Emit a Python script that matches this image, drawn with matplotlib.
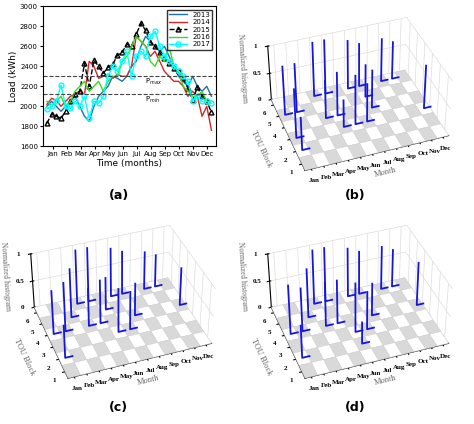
import numpy as np
import matplotlib.pyplot as plt
from mpl_toolkits.mplot3d.art3d import Poly3DCollection

months = ['Jan', 'Feb', 'Mar', 'Apr', 'May', 'Jun', 'Jul', 'Aug', 'Sep', 'Oct', 'Nov', 'Dec']
load_2013 = [2000, 2050, 2000, 1950, 2000, 2050, 2100, 2000, 1900, 1850, 2000, 2100, 2150, 2200, 2300, 2280, 2250, 2300,
             2400, 2450, 2600, 2700, 2650, 2600, 2550, 2600, 2500, 2400, 2300, 2250, 2200, 2300, 2200, 2150, 2200, 2100]
load_2014 = [2020, 2080, 2060, 2000, 2050, 2100, 2120, 2150, 2120, 2450, 2400, 2280, 2300, 2320, 2280, 2320, 2300, 2300,
             2400, 2700, 2650, 2600, 2500, 2550, 2450, 2350, 2300, 2250, 2250, 2200, 2100, 2150, 2100, 1900, 2000, 1760]
load_2015 = [1830, 1920, 1900, 1880, 1950, 2050, 2120, 2150, 2430, 2200, 2460, 2400, 2330, 2390, 2420, 2510, 2540, 2620,
             2600, 2720, 2830, 2760, 2640, 2600, 2540, 2480, 2430, 2380, 2350, 2280, 2180, 2060, 2190, 2100, 2050, 1940]
load_2016 = [2050, 2000, 2050, 2100, 2000, 2050, 2150, 2200, 2250, 2150, 2200, 2250, 2150, 2250, 2300, 2300, 2450, 2500,
             2600, 2700, 2650, 2600, 2450, 2400, 2500, 2450, 2600, 2400, 2350, 2200, 2150, 2100, 2100, 2150, 2050, 2050]
load_2017 = [1970, 2000, 2050, 2210, 2000, 1980, 2050, 2000, 2100, 1880, 2050, 2030, 2100, 2300, 2400, 2350, 2450, 2550,
             2300, 2500, 2550, 2500, 2700, 2750, 2600, 2500, 2450, 2400, 2350, 2300, 2250, 2050, 2100, 2050, 2050, 2030]
p_max, p_min = 2300, 2120

# (month, TOU block, normalized height) for the three histogram panels
spikes_b = [(1, 2, 0.6), (1, 3, 0.9), (1, 5, 0.9), (2, 5, 0.9), (4, 6, 1.0), (5, 6, 1.0), (4, 4, 0.7), (5, 4, 0.8),
            (5, 3, 0.5), (6, 3, 0.9), (7, 3, 0.7), (7, 6, 0.9), (8, 6, 0.8), (8, 5, 0.6), (8, 4, 0.7), (10, 6, 0.8),
            (11, 6, 0.7), (12, 3, 0.8)]
spikes_c = [(1, 2, 0.6), (1, 4, 0.8), (2, 4, 0.9), (3, 5, 0.9), (4, 6, 1.0), (5, 6, 1.0), (4, 4, 0.7), (5, 4, 0.8),
            (6, 3, 0.8), (7, 3, 0.7), (6, 5, 0.6), (7, 6, 0.9), (8, 6, 0.8), (8, 4, 0.6), (10, 6, 0.7), (11, 6, 0.6),
            (12, 4, 0.7)]
spikes_d = [(1, 2, 0.6), (1, 4, 0.9), (2, 4, 0.8), (3, 5, 0.9), (4, 6, 1.0), (5, 6, 1.0), (4, 4, 0.8), (5, 4, 0.8),
            (6, 3, 0.9), (6, 2, 0.4), (7, 3, 0.7), (7, 6, 0.9), (8, 6, 0.8), (8, 4, 0.6), (10, 6, 0.8), (11, 6, 0.7),
            (12, 4, 0.8)]

fig = plt.figure(figsize=(4.74, 4.24), dpi=100)

# ---- panel (a)
ax = fig.add_axes([0.09, 0.655, 0.365, 0.33])
x = np.linspace(0.6, 12.3, len(load_2013))
ax.plot(x, load_2013, color='#1f6fb5', lw=1)
ax.plot(x, load_2014, color='#d62728', lw=1)
ax.plot(x, load_2015, 'k--^', lw=1, ms=3.5, mfc='none')
ax.plot(x, load_2016, color='#33dd22', lw=1)
ax.plot(x, load_2017, color='cyan', lw=1, marker='o', ms=3.5, mfc='none')
ax.axhline(p_max, color='#444444', ls='--', lw=0.8)
ax.axhline(p_min, color='#444444', ls='--', lw=0.8)
ax.text(7.6, p_max - 70, r'P$_{max}$', fontsize=5)
ax.text(7.6, p_min - 70, r'P$_{min}$', fontsize=5)
ax.set_ylim(1600, 3000)
ax.set_xlim(0.3, 12.6)
ax.set_xticks(range(1, 13))
ax.set_xticklabels(months)
ax.tick_params(labelsize=5, length=2, pad=1.5)
ax.set_xlabel('Time (months)', fontsize=6.5, labelpad=1)
ax.set_ylabel('Load (kWh)', fontsize=6.5, labelpad=1)
ax.legend(['2013', '2014', '2015', '2016', '2017'], fontsize=5, loc='upper right',
          fancybox=False, edgecolor='k', borderpad=0.3, handlelength=2.5, labelspacing=0.2)

serif = 'Liberation Serif'


def hist3d(rect, spikes):
    a = fig.add_axes(rect, projection='3d', computed_zorder=False)
    a.view_init(elev=38, azim=-110)
    cells = []
    colors = []
    for m in range(12):
        for b in range(6):
            cells.append([(m + 0.5, b + 0.5, 0), (m + 1.5, b + 0.5, 0), (m + 1.5, b + 1.5, 0), (m + 0.5, b + 1.5, 0)])
            colors.append('#d9d9d9' if (m + b) % 2 == 0 else 'white')
    a.add_collection3d(Poly3DCollection(cells, facecolors=colors, edgecolors='#cccccc', linewidths=0.3, zorder=1))
    for m, b, h in spikes:
        a.plot([m, m, m + 0.6], [b, b, b], [h, 0, 0], color='#1515dd', lw=1.3, zorder=2)
    a.set_xlim(0.5, 12.5)
    a.set_ylim(0.5, 6.5)
    a.set_zlim(0, 1)
    a.set_xticks(range(1, 13))
    a.set_xticklabels(months, fontfamily=serif, fontweight='bold', fontsize=5)
    a.set_yticks(range(1, 7))
    a.set_yticklabels(range(1, 7), fontfamily=serif, fontweight='bold', fontsize=5)
    a.set_zticks([0, 0.5, 1])
    a.set_zticklabels(['0', '0.5', '1'], fontfamily=serif, fontweight='bold', fontsize=5)
    a.tick_params(pad=-3)
    a.set_xlabel('Month', fontfamily=serif, fontsize=6, color='#666666', labelpad=-10)
    a.set_ylabel('TOU Block', fontfamily=serif, fontsize=6, color='#666666', labelpad=-8)
    a.set_zlabel('Normalized histogram', fontfamily=serif, fontsize=5.5, color='#666666', labelpad=-10)
    for axis in (a.xaxis, a.yaxis, a.zaxis):
        axis.set_pane_color((1, 1, 1, 0))
        axis._axinfo['grid']['color'] = '#dddddd'
        axis._axinfo['grid']['linewidth'] = 0.5
    a.set_box_aspect((2.2, 1.7, 1.0), zoom=1.05)
    return a


hist3d([0.5, 0.56, 0.5, 0.44], spikes_b)
hist3d([0.0, 0.07, 0.5, 0.44], spikes_c)
hist3d([0.5, 0.07, 0.5, 0.44], spikes_d)

for lab, xp, yp in [('(a)', 0.25, 0.53), ('(b)', 0.75, 0.53), ('(c)', 0.25, 0.03), ('(d)', 0.75, 0.03)]:
    fig.text(xp, yp, lab, ha='center', fontsize=9, fontweight='bold')

fig.savefig('out.png', dpi=100)
